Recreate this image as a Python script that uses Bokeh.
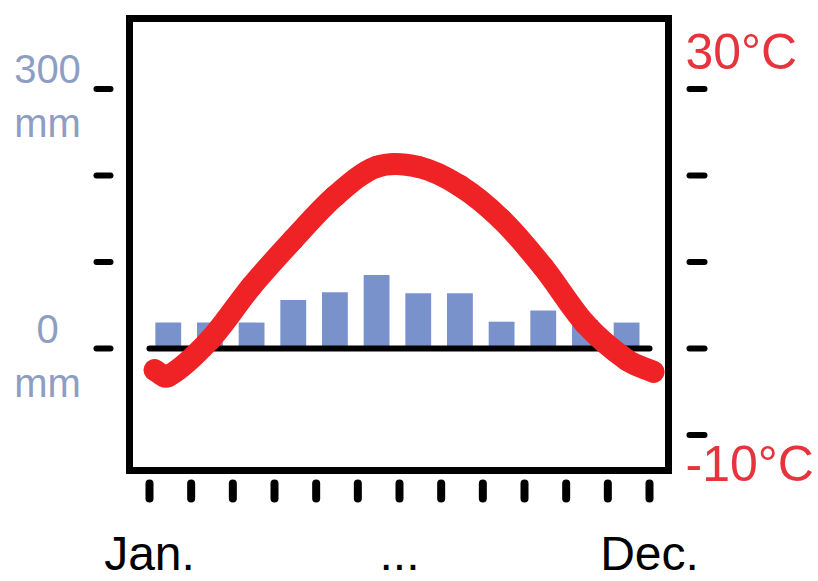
import numpy as np
from bokeh.plotting import figure
from bokeh.models import Range1d
from bokeh.core.properties import value
from bokeh.embed import file_html
from bokeh.resources import INLINE

# ---- data ----
months = ["Jan.", "Feb.", "Mar.", "Apr.", "May", "Jun.",
          "Jul.", "Aug.", "Sep.", "Oct.", "Nov.", "Dec."]
precip_mm = [30, 30, 30, 56, 65, 85, 64, 64, 31, 44, 33, 30]
temp_c = [-3.2, 1.0, 7.2, 12.6, 17.6, 21.0, 21.0, 18.8, 14.9, 9.4, 2.9, -1.3]
temp_start_c = -2.5   # value drawn at the left end of the curve
temp_end_c = -2.7     # value drawn at the right end of the curve

precip_ticks = [0, 100, 200, 300]
precip_tick_labels = {300: ("300", "mm"), 0: ("0", "mm")}
temp_ticks = [-10, 0, 10, 20, 30]
temp_tick_labels = {30: "30°C", -10: "-10°C"}
month_ticks = list(range(13))
month_tick_labels = {0: "Jan.", 6: "...", 12: "Dec."}

# ---- styling / layout ----
FONT = "Liberation Sans"
BAR_COLOR = "#7a92cc"
MM_COLOR = "#8d9ec2"
RED = "#ef2226"
RED_TEXT = "#e5343b"

W, H = 818, 581
PX_MONTH = 41.667      # pixels per month
PX_DEG = 8.65          # pixels per degree C (10 mm per degree)
X0_PX, Y0_PX = 149, 348  # pixel position of first month tick / zero line


def px_x(px):
    return (px - X0_PX) / PX_MONTH


def px_t(py):
    return (Y0_PX - py) / PX_DEG


p = figure(width=W, height=H, output_backend="svg", toolbar_location=None,
           x_range=Range1d(px_x(0), px_x(W)), y_range=Range1d(px_t(H), px_t(0)),
           x_axis_location=None, y_axis_location=None, min_border=0)
p.extra_y_ranges = {"precip": Range1d(px_t(H) * 10, px_t(0) * 10)}
p.grid.grid_line_color = None
p.outline_line_color = None
p.background_fill_color = "white"
p.border_fill_color = "white"

# plot box
box_l, box_r, box_t, box_b = px_x(129), px_x(668), px_t(18), px_t(470)
p.quad(left=[box_l], right=[box_r], top=[box_t], bottom=[box_b],
       fill_color=None, line_color="black", line_width=7, line_join="miter")

# tick marks (detached from the box)
p.segment(x0=[px_x(96)] * len(precip_ticks), x1=[px_x(110)] * len(precip_ticks),
          y0=precip_ticks, y1=precip_ticks, y_range_name="precip",
          line_color="black", line_width=6, line_cap="round")
p.segment(x0=[px_x(689)] * len(temp_ticks), x1=[px_x(704)] * len(temp_ticks),
          y0=temp_ticks, y1=temp_ticks,
          line_color="black", line_width=6, line_cap="round")
p.segment(x0=month_ticks, x1=month_ticks,
          y0=[px_t(483)] * len(month_ticks), y1=[px_t(498)] * len(month_ticks),
          line_color="black", line_width=8, line_cap="round")

# ---- bars (precipitation) ----
bar_x = [i + 0.45 for i in range(len(months))]
p.vbar(x=bar_x, top=precip_mm, bottom=0, width=0.62, y_range_name="precip",
       fill_color=BAR_COLOR, line_color=None)

# ---- zero line ----
p.line(x=[month_ticks[0], month_ticks[-1]], y=[0, 0], line_color="black",
       line_width=6, line_cap="round")

# ---- temperature curve (smooth Hermite curve through the values) ----
xs = np.array([0.12] + bar_x + [12.1])
ys = np.array([temp_start_c] + temp_c + [temp_end_c])
m = np.empty(len(xs))
m[0] = (ys[1] - ys[0]) / (xs[1] - xs[0])
m[-1] = (ys[-1] - ys[-2]) / (xs[-1] - xs[-2])
m[1:-1] = (ys[2:] - ys[:-2]) / (xs[2:] - xs[:-2])
h = np.diff(xs)
p.bezier(x0=xs[:-1], y0=ys[:-1], x1=xs[1:], y1=ys[1:],
         cx0=xs[:-1] + h / 3, cy0=ys[:-1] + m[:-1] * h / 3,
         cx1=xs[1:] - h / 3, cy1=ys[1:] - m[1:] * h / 3,
         line_color=RED, line_width=22, line_cap="round")

# ---- tick labels ----
txt_kw = dict(text_font=value(FONT), text_baseline="alphabetic")

pv = list(precip_tick_labels.keys())
p.text(x=[box_l] * len(pv), y=pv, text=[precip_tick_labels[v][0] for v in pv],
       y_range_name="precip", x_offset=-82, y_offset=-20, text_align="center",
       text_font_size="40px", text_color=MM_COLOR, **txt_kw)
p.text(x=[box_l] * len(pv), y=pv, text=[precip_tick_labels[v][1] for v in pv],
       y_range_name="precip", x_offset=-82, y_offset=34, text_align="center",
       text_font_size="40px", text_color=MM_COLOR, **txt_kw)

p.text(x=[box_r], y=[30], text=[temp_tick_labels[30]], x_offset=17, y_offset=-37,
       text_align="left", text_font_size="50px", text_color=RED_TEXT, **txt_kw)
p.text(x=[box_r], y=[-10], text=[temp_tick_labels[-10]], x_offset=17, y_offset=29,
       text_align="left", text_font_size="50px", text_color=RED_TEXT, **txt_kw)

mv = list(month_tick_labels.keys())
p.text(x=mv, y=[box_b] * len(mv), text=[month_tick_labels[v] for v in mv],
       y_offset=83, text_align="center", text_font_size="48px",
       text_color="black", **txt_kw)

open("out.html", "w").write(file_html(p, INLINE))
